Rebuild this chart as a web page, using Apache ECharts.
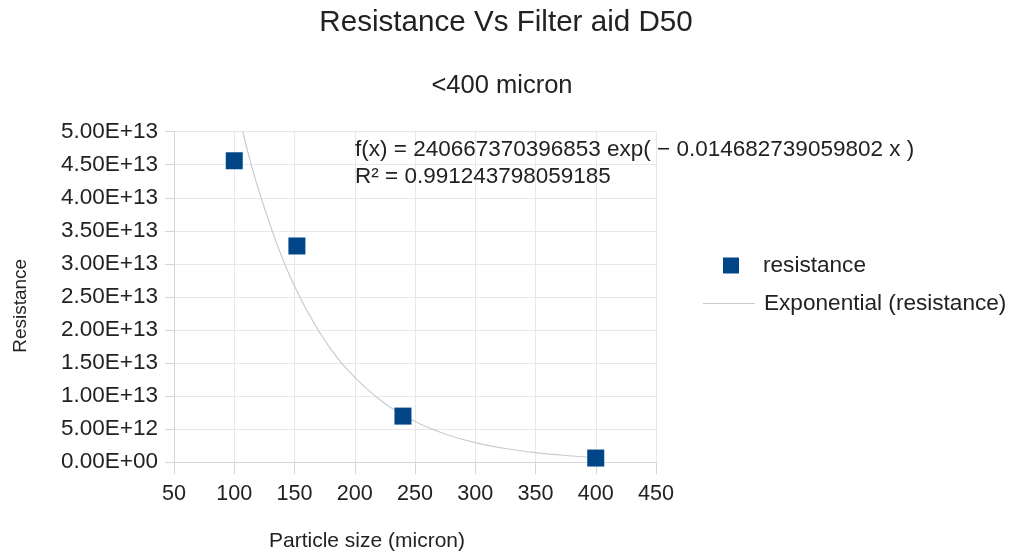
<!DOCTYPE html>
<html>
<head>
<meta charset="utf-8">
<script src="https://cdn.jsdelivr.net/npm/echarts@6/dist/echarts.min.js"></script>
<style>html,body{margin:0;padding:0;background:#fff}#c{width:1021px;height:557px}</style>
</head>
<body>
<div id="c"></div>
<script>
// Measured points
const particleSize = [100, 152, 240, 400];
const resistance = [4.56e13, 3.27e13, 6.95e12, 6.0e11];
// Exponential trendline, values
const trendX = [107, 120, 140, 160, 180, 200, 225, 250, 275, 300, 325, 350, 375, 400];
const trendY = [5.0e13, 4.13e13, 3.08e13, 2.30e13, 1.71e13, 1.28e13, 8.85e12, 6.13e12, 4.24e12, 2.94e12, 2.04e12, 1.41e12, 9.8e11, 6.8e11];
const xTicks = {min: 50, max: 450, interval: 50};
const yTicks = {min: 0, max: 5e13, interval: 5e12};
const equationLines = ['f(x) = 240667370396853 exp( − 0.014682739059802 x )', 'R² = 0.991243798059185'];

const FONT = '"Liberation Sans", Arial, sans-serif';
const TXT = '#222';

function sci(v) {
  if (v === 0) return '0.00E+00';
  const e = Math.floor(Math.log10(Math.abs(v)) + 1e-9);
  const m = v / Math.pow(10, e);
  const es = (e < 0 ? '-' : '+') + String(Math.abs(e)).padStart(2, '0');
  return m.toFixed(2) + 'E' + es;
}

const chart = echarts.init(document.getElementById('c'), null, {renderer: 'canvas'});
chart.setOption({
  backgroundColor: '#fff',
  animation: false,
  textStyle: {fontFamily: FONT},
  title: [
    {text: 'Resistance Vs Filter aid D50', left: 501, top: 3, textAlign: 'center',
     textStyle: {fontFamily: FONT, fontSize: 29.6, fontWeight: 'normal', color: TXT}},
    {text: '<400 micron', left: 497, top: 68, textAlign: 'center',
     textStyle: {fontFamily: FONT, fontSize: 25.5, fontWeight: 'normal', color: TXT}}
  ],
  grid: {left: 174, right: 365, top: 131.7, bottom: 92.4, containLabel: false},
  xAxis: {
    type: 'value', min: xTicks.min, max: xTicks.max, interval: xTicks.interval,
    name: 'Particle size (micron)', nameLocation: 'middle', nameGap: 69,
    nameTextStyle: {fontFamily: FONT, fontSize: 21, color: TXT, padding: [0, 96, 0, 0]},
    axisLine: {show: true, lineStyle: {color: '#d6d6d6', width: 1}},
    axisTick: {show: true, length: 12, lineStyle: {color: '#d6d6d6'}},
    axisLabel: {fontFamily: FONT, fontSize: 21.6, color: TXT, margin: 21},
    splitLine: {show: true, lineStyle: {color: '#e8e8e8', width: 1}}
  },
  yAxis: {
    type: 'value', min: yTicks.min, max: yTicks.max, interval: yTicks.interval,
    name: 'Resistance', nameLocation: 'middle', nameGap: 144, nameRotate: 90,
    nameTextStyle: {fontFamily: FONT, fontSize: 19, color: TXT, padding: [0, 18, 0, 0]},
    axisLine: {show: true, lineStyle: {color: '#d6d6d6', width: 1}},
    axisTick: {show: true, length: 9, lineStyle: {color: '#d6d6d6'}},
    axisLabel: {fontFamily: FONT, fontSize: 22.5, color: TXT, margin: 16, formatter: sci},
    splitLine: {show: true, lineStyle: {color: '#e8e8e8', width: 1}}
  },
  legend: [
    {data: [{name: 'resistance', icon: 'rect'}], orient: 'vertical', left: 718, top: 249,
     itemWidth: 16, itemHeight: 16, itemGap: 10,
     textStyle: {fontFamily: FONT, fontSize: 22.6, color: TXT, padding: [0, 0, 0, 19]}},
    {data: [{name: 'Exponential (resistance)', icon: 'rect'}], orient: 'vertical', left: 698, top: 287,
     itemWidth: 52, itemHeight: 1, itemGap: 10,
     textStyle: {fontFamily: FONT, fontSize: 22.6, color: TXT, padding: [0, 0, 0, 4]}}
  ],
  graphic: [
    {type: 'text', left: 355, top: 136, z: 10,
     style: {text: equationLines.join('\n'), fontFamily: FONT, fontSize: 22.5, lineHeight: 27, fill: TXT}}
  ],
  series: [
    {name: 'Exponential (resistance)', type: 'line', data: trendX.map((x, i) => [x, trendY[i]]),
     smooth: 0.4, showSymbol: false, symbol: 'none', clip: true,
     lineStyle: {color: '#c8ccd2', width: 1.2}, itemStyle: {color: '#c8ccd2'}, z: 2},
    {name: 'resistance', type: 'scatter', data: particleSize.map((x, i) => [x, resistance[i]]),
     symbol: 'rect', symbolSize: 17, itemStyle: {color: '#004586', opacity: 1}, z: 3}
  ]
});
</script>
</body>
</html>
